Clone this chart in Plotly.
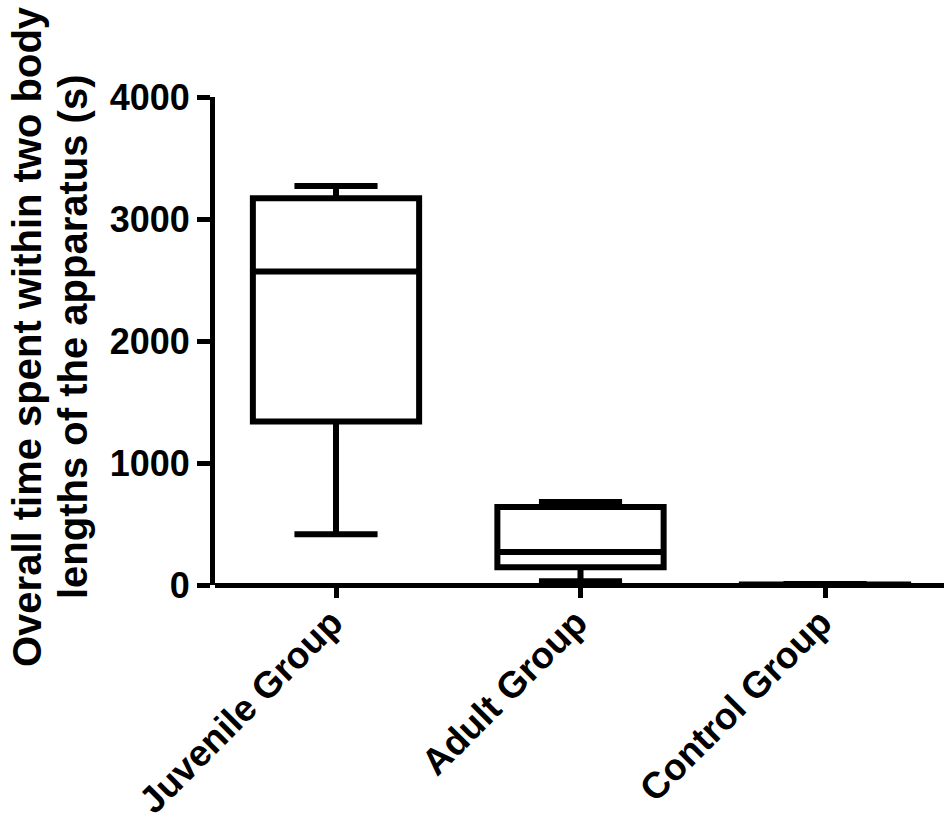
import plotly.graph_objects as go

categories = ["Juvenile Group", "Adult Group", "Control Group"]
lower_whisker = [415, 30, 0]
q1_values = [1340, 145, 0]
medians = [2570, 270, 0]
q3_values = [3170, 640, 4]
upper_whisker = [3270, 680, 8]

y_ticks = [0, 1000, 2000, 3000, 4000]
y_title_lines = ["Overall time spent within two body", "lengths of the apparatus (s)"]

FONT = "Liberation Sans, Arial, Helvetica, sans-serif"

fig = go.Figure()
fig.add_trace(go.Box(
    x=categories,
    lowerfence=lower_whisker,
    q1=q1_values,
    median=medians,
    q3=q3_values,
    upperfence=upper_whisker,
    line=dict(color="black", width=6),
    fillcolor="rgba(255,255,255,0)",
    width=0.68,
    whiskerwidth=0.5,
    boxpoints=False,
    hoverinfo="skip",
    showlegend=False,
))

L, R, T, B = 215, 0, 97, 236
W, H = 944, 821
pw = W - L - R
ph = H - T - B

annotations = []
for line, xc in zip(y_title_lines, [27, 73]):
    annotations.append(dict(
        text=line,
        xref="paper", yref="paper",
        x=(xc - L) / pw, y=(585 - 337) / ph,
        xanchor="center", yanchor="middle",
        textangle=-90,
        showarrow=False,
        font=dict(family=FONT, size=40, color="black", weight="bold"),
    ))

fig.update_layout(
    width=W, height=H,
    margin=dict(l=L, r=R, t=T, b=B, autoexpand=False),
    paper_bgcolor="white", plot_bgcolor="white",
    font=dict(family=FONT, size=36, color="black", weight="bold"),
    hovermode=False,
    xaxis=dict(
        type="category",
        range=[-(336 - L) / 244.5, (W - 336) / 244.5],
        automargin=False,
        showline=False,
        ticks="outside", ticklen=12, tickwidth=5, tickcolor="black",
        tickangle=-45,
        ticklabelstandoff=-12,
        ticklabelshift=-4,
        tickfont=dict(family=FONT, size=37, color="black", weight="bold"),
        showgrid=False, zeroline=False,
    ),
    yaxis=dict(
        range=[0, 4000],
        automargin=False,
        tickvals=y_ticks,
        ticktext=[str(v) for v in y_ticks],
        showline=True, linecolor="black", linewidth=5,
        ticks="outside", ticklen=13, tickwidth=5, tickcolor="black",
        tickfont=dict(family=FONT, size=36, color="black", weight="bold"),
        showgrid=False,
        zeroline=True, zerolinecolor="black", zerolinewidth=5,
    ),
    annotations=annotations,
)

fig.write_html("out.html", config={"displayModeBar": False},
               post_script="document.body.style.margin='0';")
